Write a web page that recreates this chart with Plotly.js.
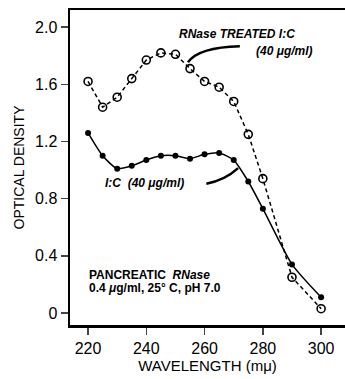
<!DOCTYPE html>
<html><head><meta charset="utf-8">
<script src="https://cdn.plot.ly/plotly-3.0.1.min.js"></script>
<style>html,body{margin:0;padding:0;background:#fff}#c{width:345px;height:379px}</style>
</head><body><div id="c"></div>
<script>
const wavelengths = [220,225,230,235,240,245,250,255,260,265,270,275,280,290,300];
const treatedOD   = [1.62,1.44,1.51,1.64,1.77,1.82,1.81,1.71,1.62,1.58,1.48,1.25,0.94,0.25,0.03];
const untreatedOD = [1.26,1.10,1.01,1.03,1.07,1.10,1.10,1.08,1.11,1.12,1.07,0.92,0.73,0.34,0.11];
const yTickVals = [0,0.4,0.8,1.2,1.6,2.0];
const yTickText = ["0","0.4","0.8","1.2","1.6","2.0"];
const xTickVals = [220,240,260,280,300];

const narrow = '"Liberation Sans",Arial,sans-serif';
const annFont = {family:'"Liberation Sans",Arial,sans-serif', size:12, color:'#000'};

const traces = [
  {x:wavelengths, y:treatedOD, mode:'lines+markers', type:'scatter',
   line:{color:'#000', width:1.5, dash:'4px,3px'},
   marker:{symbol:'circle-open', size:8, color:'#000', line:{width:1.6, color:'#000'}}},
  {x:wavelengths, y:untreatedOD, mode:'lines+markers', type:'scatter',
   line:{color:'#000', width:1.5, shape:'spline', smoothing:0.6},
   marker:{symbol:'circle', size:6, color:'#000'}}
];

const layout = {
  width:345, height:379, showlegend:false,
  margin:{l:70, r:0, t:10, b:54},
  paper_bgcolor:'#fff', plot_bgcolor:'#fff',
  xaxis:{range:[213.8,308.2], tickvals:xTickVals, ticks:'outside', ticklen:7, tickwidth:1.5,
    showline:true, linewidth:2.5, linecolor:'#000', mirror:true, showgrid:false, zeroline:false,
    tickfont:{family:narrow, size:16, color:'#000'},
    title:{text:'WAVELENGTH (mμ)', font:{family:narrow, size:15, color:'#000'}, standoff:1}},
  yaxis:{range:[-0.084,2.12], tickvals:yTickVals, ticktext:yTickText, ticks:'outside', ticklen:7, tickwidth:1.5,
    showline:true, linewidth:2.5, linecolor:'#000', showgrid:false, zeroline:false,
    tickfont:{family:narrow, size:16, color:'#000'},
    title:{text:'OPTICAL DENSITY', font:{family:narrow, size:14, color:'#000'}, standoff:7}},
  annotations:[
    {x:250.4, y:1.95, xref:'x', yref:'y', text:'<b><i>RNase TREATED I:C</i></b>', showarrow:false, xanchor:'left', yanchor:'middle', font:annFont},
    {x:277.0, y:1.833, xref:'x', yref:'y', text:'<b><i>(40 μg/ml)</i></b>', showarrow:false, xanchor:'left', yanchor:'middle', font:annFont},
    {x:225.0, y:0.909, xref:'x', yref:'y', text:'<b><i>I:C  (40 μg/ml)</i></b>', showarrow:false, xanchor:'left', yanchor:'middle', font:annFont},
    {x:219.8, y:0.265, xref:'x', yref:'y', text:'<b>PANCREATIC  <i>RNase</i></b>', showarrow:false, xanchor:'left', yanchor:'middle', font:annFont},
    {x:219.8, y:0.175, xref:'x', yref:'y', text:'<b>0.4 <i>μ</i>g/ml, 25° C, pH 7.0</b>', showarrow:false, xanchor:'left', yanchor:'middle', font:annFont}
  ],
  shapes:[
    {type:'path', xref:'x', yref:'y', path:'M 254.3 1.755 Q 258 1.86 272.1 1.867', line:{color:'#000', width:2.5}},
    {type:'path', xref:'x', yref:'y', path:'M 260.6 0.905 Q 267 0.93 271.5 1.014', line:{color:'#000', width:2.5}}
  ]
};
Plotly.newPlot('c', traces, layout, {staticPlot:true, displayModeBar:false});
</script></body></html>
